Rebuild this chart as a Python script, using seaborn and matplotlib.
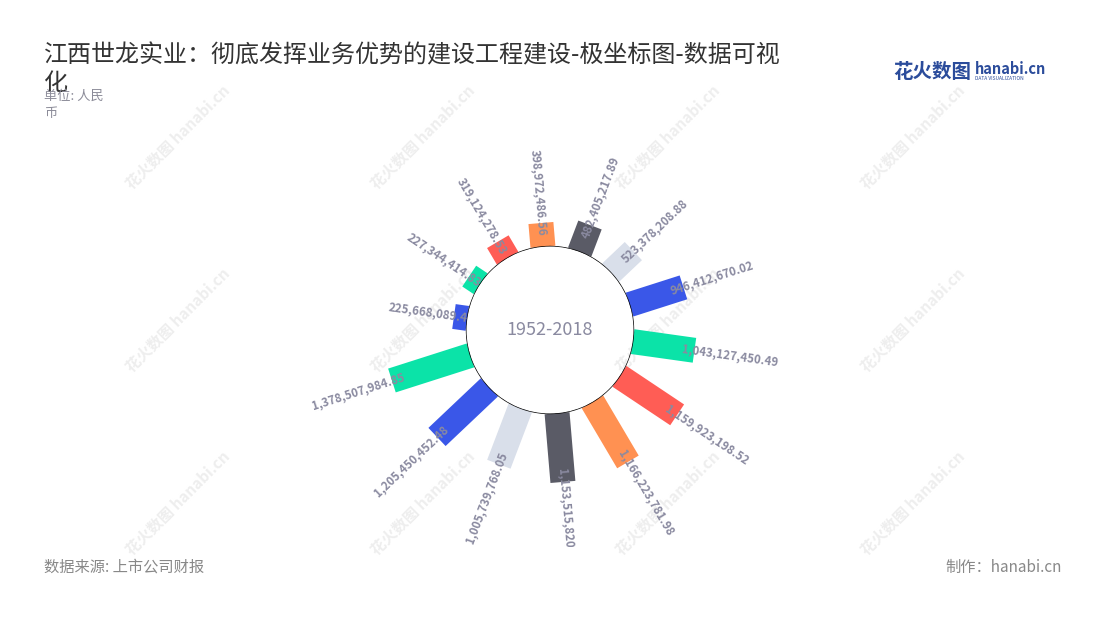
import numpy as np
import matplotlib
matplotlib.use("Agg")
import matplotlib.pyplot as plt
from matplotlib.transforms import Bbox, TransformedBbox
import seaborn as sns

# 数据 (1952-2018, 按时间顺序)
valores = [225668089.4, 227344414.83, 319124278.53, 398972486.56, 482405217.89,
           523378208.88, 946412670.02, 1043127450.49, 1159923198.52, 1166223781.98,
           1153515820.5, 1005739768.05, 1205450452.48, 1378507984.85]
colores = ["#3a57e8", "#0be3a8", "#ff5d55", "#ff9152", "#5a5b66", "#d9dfea"]

titulo = "江西世龙实业：彻底发挥业务优势的建设工程建设-极坐标图-数据可视"
titulo2 = "化"
subtitulo = ["单位: 人民", "币"]
centro = "1952-2018"
fuente = "数据来源: 上市公司财报"
autor = "制作：hanabi.cn"

sns.set_theme(style="white")
plt.rcParams["font.family"] = ["Noto Sans CJK SC", "DejaVu Sans"]

W, H = 1100, 620
fig = plt.figure(figsize=(W / 100, H / 100), dpi=100)
fig.patch.set_facecolor("white")

# marcas de agua
for wx in [178, 423, 668, 913]:
    for wy in [137, 320, 503]:
        fig.text(wx / W, 1 - wy / H, "花火数图 hanabi.cn", rotation=45,
                 ha="center", va="center", fontsize=11, fontweight="bold",
                 color="#eeeeee", zorder=0)

# eje polar: centro (550, 330), radio 200 px
R = 200
ax = fig.add_axes([(550 - R) / W, (H - 330 - R) / H, 2 * R / W, 2 * R / H],
                  projection="polar", zorder=1)
ax.set_theta_zero_location("N")
ax.set_theta_direction(-1)
rmax = 1.948e9
ax.set_ylim(0, rmax)
ax.set_rorigin(-1.396e9)
ax.set_axis_off()

paleta = sns.color_palette(colores)
n = len(valores)
angulos = np.deg2rad(278 + np.arange(n) * 360 / n)
cols = [paleta[i % len(paleta)] for i in range(n)]
ax.vlines(angulos, 0, valores, colors=cols, linewidth=18, capstyle="butt", zorder=2)

# circulo central
t = np.linspace(0, 2 * np.pi, 400)
ax.plot(t, np.zeros_like(t), color="black", lw=1, zorder=3)
ax.text(0.5, 0.5, centro, transform=ax.transAxes, ha="center", va="center",
        fontsize=13, color="#8a8aa0")

# etiquetas
clip = TransformedBbox(Bbox([[0, 73 / H], [1, 1]]), fig.transFigure)
for ang, v in zip(angulos, valores):
    phi = np.rad2deg(ang) % 360
    txt = f"{v:,.2f}".rstrip("0").rstrip(".")
    if phi < 180:
        rot, ha = 90 - phi, "left"
    else:
        rot, ha = 270 - phi, "right"
    lab = ax.text(ang, v - 2.2e8, txt, rotation=rot, rotation_mode="anchor",
                  ha=ha, va="center", fontsize=8.3, fontweight="bold",
                  color="#8a8aa0", zorder=4)
    lab.set_clip_on(True)
    lab.set_clip_box(clip)

# textos
fig.text(44 / W, 1 - 55 / H, titulo, fontsize=17.3, color="#333333", va="center")
fig.text(44 / W, 1 - 83 / H, titulo2, fontsize=17.3, color="#333333", va="center")
fig.text(44 / W, 1 - 96 / H, subtitulo[0], fontsize=9.5, color="#8c8c99", va="center")
fig.text(44 / W, 1 - 113 / H, subtitulo[1], fontsize=9.5, color="#8c8c99", va="center")
fig.text(44 / W, 1 - 567 / H, fuente, fontsize=11, color="#888888", va="center")
fig.text(1062 / W, 1 - 567 / H, autor, fontsize=11, color="#888888", va="center", ha="right")

# logo
fig.text(893 / W, 1 - 72 / H, "花火数图", fontsize=14, fontweight="bold",
         color="#2b4c9b", va="center")
fig.text(975 / W, 1 - 69 / H, "hanabi.cn", fontsize=10.5, fontweight="bold",
         color="#2b4c9b", va="center")
fig.text(975 / W, 1 - 79 / H, "DATA VISUALIZATION", fontsize=3.5,
         color="#2b4c9b", va="center")

fig.savefig("out.png", dpi=100)
